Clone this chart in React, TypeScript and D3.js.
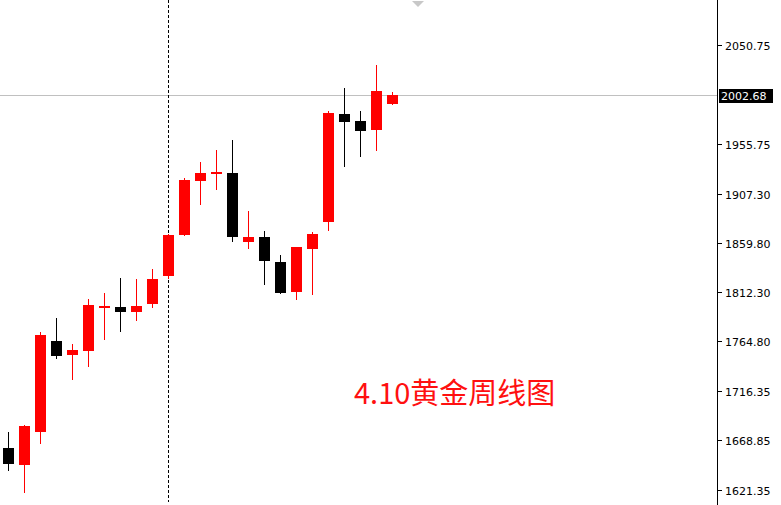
import React from "react";
import * as d3 from "d3";

const opens = [1661.6, 1645.5, 1677.4, 1765.0, 1751.8, 1755.4, 1796.9, 1797.9, 1793.0, 1800.8, 1828.1, 1867.4, 1919.6, 1926.7, 1927.6, 1861.0, 1865.8, 1841.3, 1812.7, 1853.9, 1880.3, 1984.3, 1977.6, 1968.9, 1994.3];
const highs = [1677.1, 1683.9, 1774.0, 1787.5, 1762.1, 1805.6, 1811.1, 1826.2, 1824.9, 1834.6, 1868.4, 1922.2, 1938.3, 1949.6, 1959.2, 1890.9, 1871.3, 1848.1, 1856.1, 1870.0, 1987.2, 2009.2, 1987.2, 2031.7, 2005.3];
const lows = [1639.4, 1618.4, 1665.5, 1747.6, 1727.3, 1739.9, 1766.0, 1774.0, 1784.3, 1797.2, 1824.6, 1866.5, 1896.4, 1910.9, 1861.0, 1853.4, 1819.1, 1810.1, 1804.6, 1809.5, 1871.6, 1933.4, 1943.1, 1948.9, 1993.0];
const closes = [1646.2, 1682.9, 1770.8, 1750.5, 1756.6, 1799.8, 1798.4, 1793.3, 1798.8, 1824.9, 1867.4, 1920.6, 1927.6, 1928.0, 1865.8, 1865.8, 1842.3, 1811.7, 1855.8, 1868.7, 1985.6, 1976.6, 1968.2, 2006.6, 2002.68];

const tickValues = [2050.75, 1955.75, 1907.3, 1859.8, 1812.3, 1764.8, 1716.35, 1668.85, 1621.35];
const currentPrice = 2002.68;
const markerIndex = 10;
const title = "4.10黄金周线图";

const W = 781;
const H = 505;
const axisX = 717.5;

export default function App() {
  const n = opens.length;
  const x = d3.scaleLinear().domain([0, n - 1]).range([8.5, 8.5 + 16 * (n - 1)]);
  const y = d3.scaleLinear().domain([1606.5, 2094.5]).range([H, 0]);
  const bodyW = 11;

  const candles = d3.range(n).map((i) => {
    const o = opens[i], c = closes[i], h = highs[i], l = lows[i];
    const up = c >= o;
    const color = up ? "#ff0000" : "#000000";
    const top = Math.round(y(Math.max(o, c)));
    const bot = Math.round(y(Math.min(o, c)));
    const cx = x(i);
    return (
      <g key={i}>
        <line x1={cx} x2={cx} y1={Math.round(y(h))} y2={Math.round(y(l))} stroke={color} strokeWidth={1} shapeRendering="crispEdges" />
        <rect x={Math.round(cx - bodyW / 2)} y={top} width={bodyW} height={Math.max(1, bot - top)} fill={color} shapeRendering="crispEdges" />
      </g>
    );
  });

  const yc = Math.round(y(currentPrice)) + 0.5;
  const mx = x(markerIndex);

  return (
    <svg width={W} height={H} style={{ position: "absolute", left: 0, top: 0, background: "#fff" }} fontFamily="'DejaVu Sans', sans-serif">
      <rect x={0} y={0} width={W} height={H} fill="#ffffff" />
      {/* current price line */}
      <line x1={0} x2={axisX} y1={yc} y2={yc} stroke="#c0c0c0" strokeWidth={1} shapeRendering="crispEdges" />
      {/* period separator */}
      <line x1={mx} x2={mx} y1={0} y2={502} stroke="#000" strokeWidth={1} strokeDasharray="3,2" shapeRendering="crispEdges" />
      {candles}
      {/* chart shift marker */}
      <path d={`M412,1 L424,1 L418,7 Z`} fill="#c8c8c8" />
      {/* axis */}
      <line x1={axisX} x2={axisX} y1={0} y2={H} stroke="#000" strokeWidth={1} shapeRendering="crispEdges" />
      {tickValues.map((v) => {
        const ty = Math.round(y(v)) + 0.5;
        return (
          <g key={v}>
            <line x1={axisX} x2={axisX + 4} y1={ty} y2={ty} stroke="#000" shapeRendering="crispEdges" />
            <text x={725} y={ty + 0.5} dy="0.36em" fontSize={11} fill="#000">{v.toFixed(2)}</text>
          </g>
        );
      })}
      <rect x={719} y={yc - 6.5} width={54} height={14} fill="#000" />
      <text x={721} y={yc + 0.5} dy="0.36em" fontSize={11} fill="#fff">{currentPrice.toFixed(2)}</text>
      <text x={354} y={404} fontSize={29} fill="#ff1010" fontFamily="'Noto Sans CJK SC', sans-serif">{title}</text>
    </svg>
  );
}
